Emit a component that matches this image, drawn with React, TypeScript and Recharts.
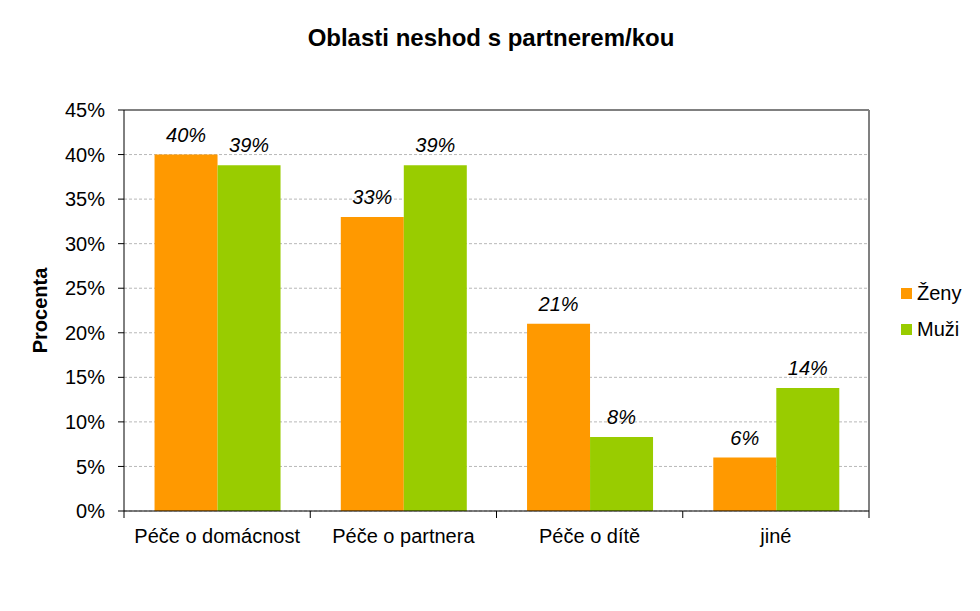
import { BarChart, Bar, XAxis, YAxis, CartesianGrid, LabelList, ReferenceLine } from "recharts";

const categories = ["Péče o domácnost", "Péče o partnera", "Péče o dítě", "jiné"];
const zeny = [40, 33, 21, 6];
const muzi = [38.8, 38.8, 8.3, 13.8];
const yTicks = [0, 5, 10, 15, 20, 25, 30, 35, 40, 45];

const series = [
  { key: "zeny", name: "Ženy", color: "#FF9900" },
  { key: "muzi", name: "Muži", color: "#99CC00" },
];

const data = categories.map((name, i) => ({ name, zeny: zeny[i], muzi: muzi[i] }));

const FONT = "'Liberation Sans', Arial, sans-serif";
const BAND = (869 - 124) / 4;

const CatTick = (props: any) => {
  const { x, y, payload, index } = props;
  const left = x - BAND / 2;
  return (
    <g>
      <line x1={left} x2={left} y1={y - 8} y2={y - 1} stroke="#000" />
      {index === categories.length - 1 && (
        <line x1={x + BAND / 2} x2={x + BAND / 2} y1={y - 8} y2={y - 1} stroke="#000" />
      )}
      <text x={x} y={y + 24} textAnchor="middle" fontSize={20} fontFamily={FONT} fill="#000">
        {payload.value}
      </text>
    </g>
  );
};

const App = () => {
  return (
    <div style={{ position: "absolute", left: 0, top: 0, width: 980, height: 611, background: "#fff", fontFamily: FONT }}>
      <div style={{ position: "absolute", top: 24, left: 0, width: 982, textAlign: "center", fontSize: 24, fontWeight: "bold", lineHeight: "28px" }}>
        Oblasti neshod s partnerem/kou
      </div>
      <div style={{ position: "absolute", left: 901, top: 275, fontSize: 20 }}>
        {series.map((s) => (
          <div key={s.key} style={{ display: "flex", alignItems: "center", height: 36 }}>
            <span style={{ display: "inline-block", width: 11, height: 11, background: s.color, marginRight: 5 }} />
            <span>{s.name}</span>
          </div>
        ))}
      </div>
      <BarChart
        width={980}
        height={611}
        data={data}
        margin={{ top: 110, right: 111, left: 24, bottom: 60 }}
        barCategoryGap="16.4%"
        barGap={0}
        style={{ position: "absolute", left: 0, top: 0 }}
      >
        <CartesianGrid vertical={false} stroke="#b8b8b8" strokeDasharray="3 2" />
        <XAxis
          dataKey="name"
          height={40}
          axisLine={{ stroke: "#000" }}
          tickLine={false}
          tick={<CatTick />}
          interval={0}
        />
        <YAxis
          width={100}
          domain={[0, 45]}
          ticks={yTicks}
          interval={0}
          tickFormatter={(v) => `${v}%`}
          axisLine={{ stroke: "#000" }}
          tickLine={{ stroke: "#000" }}
          tickSize={6}
          tickMargin={13}
          tick={{ fontSize: 20, fill: "#000", fontFamily: FONT }}
          label={{
            value: "Procenta",
            angle: -90,
            position: "insideLeft",
            offset: 16,
            textAnchor: "middle",
            style: { fontSize: 20, fontWeight: "bold", fill: "#000", fontFamily: FONT, textAnchor: "middle" },
          }}
        />
        <ReferenceLine y={45} stroke="#808080" strokeWidth={2} ifOverflow="visible" />
        <ReferenceLine
          segment={[{ x: "jiné", y: 0 }, { x: "jiné", y: 45 }]}
          stroke="#808080"
          strokeWidth={2}
          ifOverflow="visible"
          transform={`translate(${BAND / 2}, 0)`}
        />
        {series.map((s) => (
          <Bar key={s.key} dataKey={s.key} name={s.name} fill={s.color} isAnimationActive={false}>
            <LabelList
              dataKey={s.key}
              position="top"
              offset={13}
              formatter={(v: any) => `${Math.round(v)}%`}
              style={{ fontSize: 20, fontStyle: "italic", fill: "#000", fontFamily: FONT }}
            />
          </Bar>
        ))}
      </BarChart>
    </div>
  );
};

export default App;
